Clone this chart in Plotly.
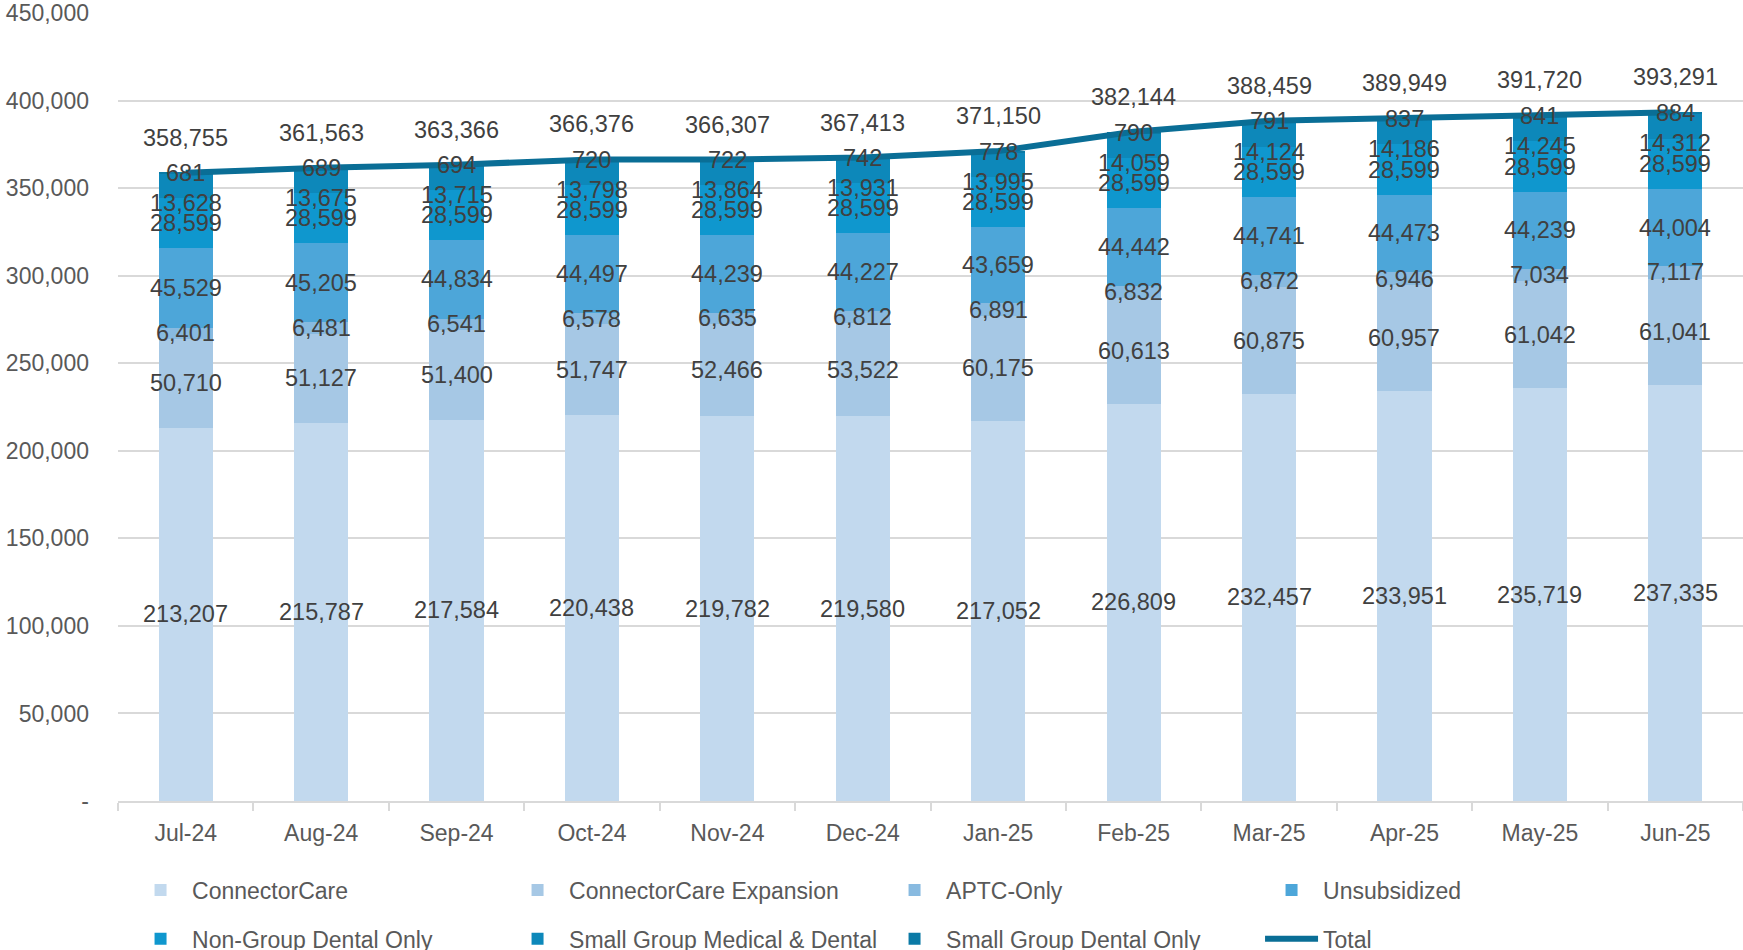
import plotly.graph_objects as go

months = ["Jul-24", "Aug-24", "Sep-24", "Oct-24", "Nov-24", "Dec-24",
          "Jan-25", "Feb-25", "Mar-25", "Apr-25", "May-25", "Jun-25"]

connectorcare = [213207, 215787, 217584, 220438, 219782, 219580,
                 217052, 226809, 232457, 233951, 235719, 237335]
connectorcare_expansion = [50710, 51127, 51400, 51747, 52466, 53522,
                           60175, 60613, 60875, 60957, 61042, 61041]
aptc_only = [6401, 6481, 6541, 6578, 6635, 6812,
             6891, 6832, 6872, 6946, 7034, 7117]
unsubsidized = [45529, 45205, 44834, 44497, 44239, 44227,
                43659, 44442, 44741, 44473, 44239, 44004]
non_group_dental = [28599, 28599, 28599, 28599, 28599, 28599,
                    28599, 28599, 28599, 28599, 28599, 28599]
small_group_med_dental = [13628, 13675, 13715, 13798, 13864, 13931,
                          13995, 14059, 14124, 14186, 14245, 14312]
small_group_dental_only = [681, 689, 694, 720, 722, 742,
                           778, 790, 791, 837, 841, 884]
total = [358755, 361563, 363366, 366376, 366307, 367413,
         371150, 382144, 388459, 389949, 391720, 393291]

y_ticks = [0, 50000, 100000, 150000, 200000, 250000, 300000, 350000, 400000, 450000]
y_tick_text = ["-"] + [f"{v:,}" for v in y_ticks[1:]]

series = [
    ("ConnectorCare", connectorcare, "#C2D9EE", "legend", 0),
    ("ConnectorCare Expansion", connectorcare_expansion, "#A6C8E5", "legend", 0),
    ("APTC-Only", aptc_only, "#88BAE0", "legend", 0),
    ("Unsubsidized", unsubsidized, "#4DA6D9", "legend", 0),
    ("Non-Group Dental Only", non_group_dental, "#0F97CE", "legend2", 0),
    ("Small Group Medical & Dental", small_group_med_dental, "#0D88BA", "legend2", -17),
    ("Small Group Dental Only", small_group_dental_only, "#0B7AA6", "legend2", 0),
]

LABEL_COLOR = "#404040"
TICK_COLOR = "#595959"
GRID = "#D9D9D9"
FONT = "Liberation Sans"

fig = go.Figure()
annotations = []
base = [0] * len(months)
for name, vals, color, leg, shift in series:
    fig.add_trace(go.Bar(
        x=months, y=vals, name=name, marker=dict(color=color, line=dict(width=0)),
        legend=leg,
    ))
    for i, v in enumerate(vals):
        annotations.append(dict(
            x=months[i], y=base[i] + v / 2, text=f"{v:,}", showarrow=False,
            yshift=shift, font=dict(size=23.5, color=LABEL_COLOR, family=FONT),
        ))
        base[i] += v

fig.add_trace(go.Scatter(
    x=months, y=total, mode="lines", name="Total",
    line=dict(color="#0A6E96", width=6), legend="legend2",
))
for i, v in enumerate(total):
    annotations.append(dict(
        x=months[i], y=v, text=f"{v:,}", showarrow=False, yshift=35,
        font=dict(size=23.5, color=LABEL_COLOR, family=FONT),
    ))

legend_common = dict(
    orientation="h", xanchor="left", yanchor="middle",
    entrywidth=309, entrywidthmode="pixels", itemwidth=53,
    font=dict(size=23, color=TICK_COLOR, family=FONT),
    bgcolor="rgba(0,0,0,0)", traceorder="normal",
)

fig.update_layout(
    width=1743, height=950,
    margin=dict(l=118, r=0, t=13, b=149, autoexpand=False),
    paper_bgcolor="white", plot_bgcolor="white",
    barmode="stack", bargap=0.6,
    font=dict(family=FONT, color=TICK_COLOR, size=23),
    showlegend=True,
    legend=dict(x=0.0068, y=-0.113, **legend_common),
    legend2=dict(x=0.0068, y=-0.175, **legend_common),
    annotations=annotations,
    xaxis=dict(
        type="category", tickson="boundaries", ticks="outside", ticklen=8,
        tickcolor=GRID, tickwidth=2, showline=True, linecolor=GRID, linewidth=2,
        showgrid=False, tickfont=dict(size=23, color=TICK_COLOR, family=FONT),
        ticklabelstandoff=10,
    ),
    yaxis=dict(
        range=[0, 450000], tickvals=y_ticks, ticktext=y_tick_text,
        showgrid=True, gridcolor=GRID, gridwidth=2, zeroline=False,
        showline=False, ticks="", tickfont=dict(size=23, color=TICK_COLOR, family=FONT),
        ticklabelstandoff=28,
    ),
)

fig.write_html("out.html")
